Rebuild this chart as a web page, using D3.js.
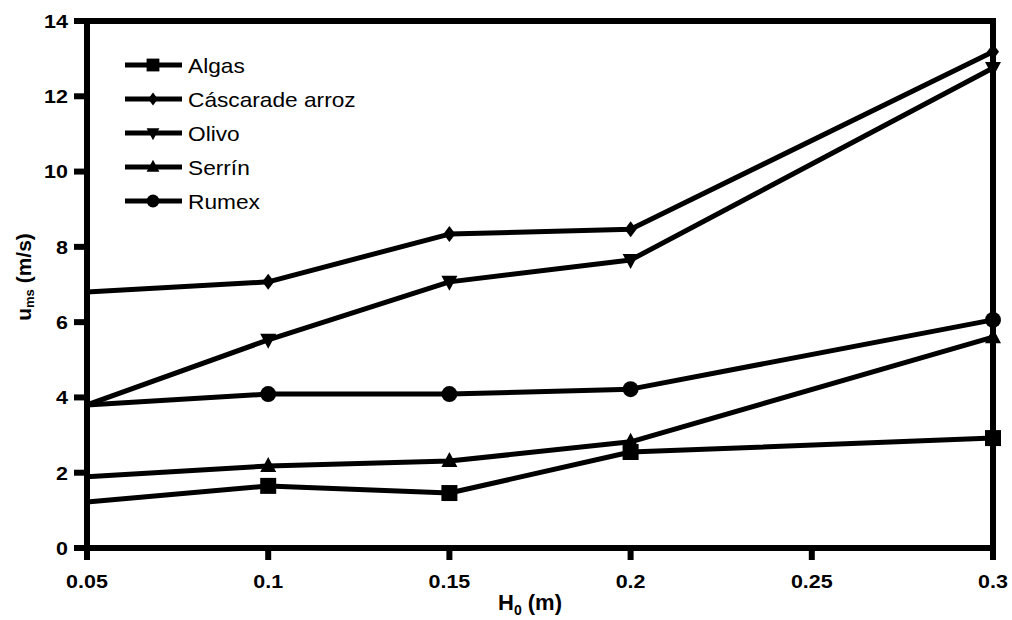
<!DOCTYPE html>
<html>
<head>
<meta charset="utf-8">
<script src="https://cdn.jsdelivr.net/npm/d3@7"></script>
<style>
  body { margin: 0; background: #fff; }
  text { font-family: "Liberation Sans", Arial, sans-serif; }
</style>
</head>
<body>
<div id="chart"></div>
<script>
// data
let heights = [0.05, 0.1, 0.15, 0.2, 0.3];
let algas = [1.22, 1.65, 1.46, 2.55, 2.92];
let cascara = [6.8, 7.07, 8.34, 8.47, 13.18];
let olivo = [3.8, 5.53, 7.07, 7.65, 12.75];
let serrin = [1.89, 2.18, 2.31, 2.82, 5.6];
let rumex = [3.8, 4.09, 4.09, 4.22, 6.06];
let seriesNames = ["Algas", "Cáscarade arroz", "Olivo", "Serrín", "Rumex"];
let seriesSymbols = ["square", "diamond", "down", "up", "circle"];
let xTicks = [0.05, 0.1, 0.15, 0.2, 0.25, 0.3];
let yTicks = [0, 2, 4, 6, 8, 10, 12, 14];

let series = [algas, cascara, olivo, serrin, rumex].map((vals, i) => ({
    name: seriesNames[i],
    symbol: seriesSymbols[i],
    values: vals.map((v, j) => ({x: heights[j], y: v}))
}));

let width = 1012, height = 620;
let margin = {top: 21, right: 19, bottom: 72, left: 87};

let x = d3.scaleLinear().domain([0.05, 0.3]).range([margin.left, width - margin.right]);
let y = d3.scaleLinear().domain([0, 14]).range([height - margin.bottom, margin.top]);

let svg = d3.select("#chart").append("svg")
    .attr("width", width)
    .attr("height", height);

function symbolPath(kind, k) {
    k = k || 1;
    if (kind == "square") return d3.symbol(d3.symbolSquare, 256 * k * k)();
    if (kind == "circle") return d3.symbol(d3.symbolCircle, 200 * k * k)();
    if (kind == "diamond") return "M0," + (-8 * k) + "L" + (6 * k) + ",0L0," + (8 * k) + "L" + (-6 * k) + ",0Z";
    if (kind == "up") return "M0," + (-9 * k) + "L" + (8 * k) + "," + (6 * k) + "L" + (-8 * k) + "," + (6 * k) + "Z";
    if (kind == "down") return "M0," + (9 * k) + "L" + (8 * k) + "," + (-6 * k) + "L" + (-8 * k) + "," + (-6 * k) + "Z";
}

// the original text is a bit wider than Liberation Sans
function stretch(sel, f) {
    sel.each(function() {
        let len = this.getComputedTextLength();
        d3.select(this).attr("textLength", len * f).attr("lengthAdjust", "spacingAndGlyphs");
    });
}

// frame
svg.append("rect")
    .attr("x", margin.left)
    .attr("y", margin.top)
    .attr("width", width - margin.left - margin.right)
    .attr("height", height - margin.top - margin.bottom)
    .attr("fill", "none")
    .attr("stroke", "#000")
    .attr("stroke-width", 6);

// y ticks
svg.append("g").selectAll("line")
    .data(yTicks)
  .enter().append("line")
    .attr("x1", margin.left - 13)
    .attr("x2", margin.left)
    .attr("y1", d => y(d))
    .attr("y2", d => y(d))
    .attr("stroke", "#000")
    .attr("stroke-width", 6);

svg.append("g").selectAll("text")
    .data(yTicks)
  .enter().append("text")
    .attr("x", 68)
    .attr("y", d => y(d))
    .attr("dy", "0.36em")
    .attr("text-anchor", "end")
    .attr("font-size", 19)
    .attr("font-weight", "bold")
    .text(d => d)
    .call(stretch, 1.13);

// x ticks
svg.append("g").selectAll("line")
    .data(xTicks)
  .enter().append("line")
    .attr("x1", d => x(d))
    .attr("x2", d => x(d))
    .attr("y1", y(0))
    .attr("y2", y(0) + 12)
    .attr("stroke", "#000")
    .attr("stroke-width", 6);

svg.append("g").selectAll("text")
    .data(xTicks)
  .enter().append("text")
    .attr("x", d => x(d))
    .attr("y", 588)
    .attr("text-anchor", "middle")
    .attr("font-size", 19)
    .attr("font-weight", "bold")
    .text(d => d)
    .call(stretch, 1.13);

// axis titles
let xt = svg.append("text")
    .attr("x", 530)
    .attr("y", 610)
    .attr("text-anchor", "middle")
    .attr("font-size", 22)
    .attr("font-weight", "bold");
xt.append("tspan").text("H");
xt.append("tspan").attr("font-size", 14).attr("dy", 5).text("0");
xt.append("tspan").attr("dy", -5).text(" (m)");

let yt = svg.append("text")
    .attr("transform", "translate(31,277) rotate(-90)")
    .attr("text-anchor", "middle")
    .attr("font-size", 21)
    .attr("font-weight", "bold");
yt.append("tspan").text("u");
yt.append("tspan").attr("font-size", 13).attr("dy", 3).text("ms");
yt.append("tspan").attr("dy", -3).text(" (m/s)");

// lines
let line = d3.line().x(d => x(d.x)).y(d => y(d.y));

let g = svg.append("g");
g.selectAll("path.line")
    .data(series)
  .enter().append("path")
    .attr("class", "line")
    .attr("d", d => line(d.values))
    .attr("fill", "none")
    .attr("stroke", "#000")
    .attr("stroke-width", 5)
    .attr("stroke-linejoin", "round");

series.forEach(s => {
    g.selectAll(null)
        .data(s.values.filter(p => p.x > 0.05))
      .enter().append("path")
        .attr("d", symbolPath(s.symbol))
        .attr("transform", p => "translate(" + x(p.x) + "," + y(p.y) + ")")
        .attr("fill", "#000");
});

// legend
let legend = svg.append("g").selectAll("g")
    .data(series)
  .enter().append("g")
    .attr("transform", (d, i) => "translate(125," + (65 + i * 34) + ")");

legend.append("line")
    .attr("x1", 0).attr("x2", 57)
    .attr("stroke", "#000")
    .attr("stroke-width", 5);
legend.append("path")
    .attr("d", d => symbolPath(d.symbol, 0.8))
    .attr("transform", "translate(28,0)")
    .attr("fill", "#000");
legend.append("text")
    .attr("x", 63)
    .attr("dy", "0.36em")
    .attr("font-size", 21)
    .text(d => d.name)
    .call(stretch, 1.08);
</script>
</body>
</html>
